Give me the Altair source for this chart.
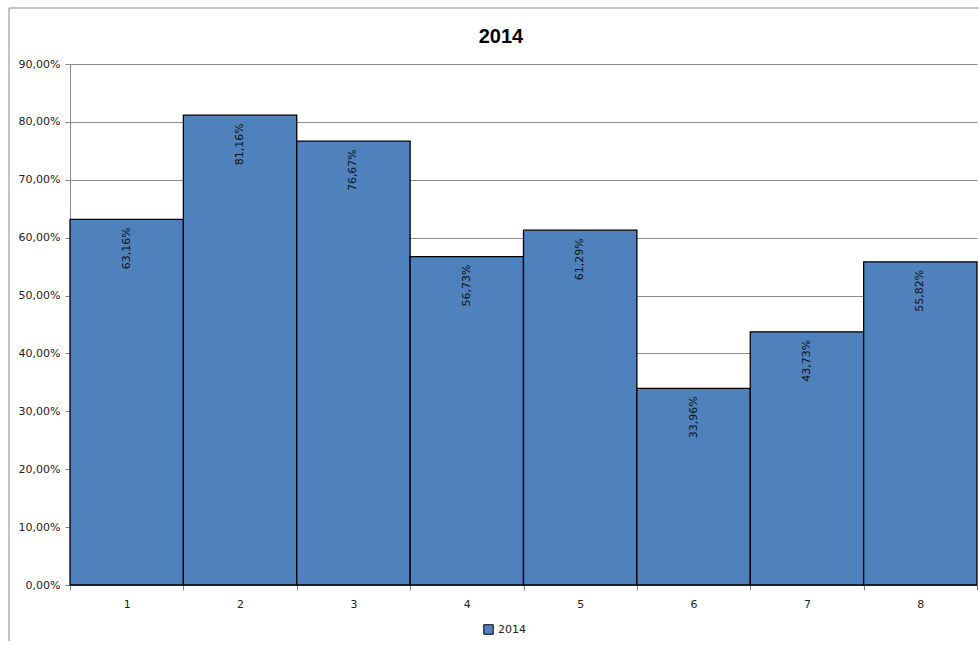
import altair as alt
import pandas as pd

categories = ["1", "2", "3", "4", "5", "6", "7", "8"]
values = [63.16, 81.16, 76.67, 56.73, 61.29, 33.96, 43.73, 55.82]
series = ["2014"] * 8
y_ticks = [0, 10, 20, 30, 40, 50, 60, 70, 80, 90]
title_text = ["2014"]

df = pd.DataFrame({"cat": categories, "value": values, "series": series})

FONT = "DejaVu Sans"
BAR = "#4F81BD"

base = alt.Chart(df)

x_enc = alt.X(
    "cat:N",
    sort=categories,
    scale=alt.Scale(paddingInner=0, paddingOuter=0),
    axis=alt.Axis(
        title=None, labelAngle=0, tickBand="extent", tickSize=5,
        tickColor="#888888", domainColor="#888888", labelPadding=8,
        labelFont=FONT, labelFontSize=11, labelColor="#222222", grid=False,
    ),
)
y_enc = alt.Y(
    "value:Q",
    scale=alt.Scale(domain=[0, 90], nice=False),
    axis=alt.Axis(
        title=None, values=y_ticks, tickSize=5, tickColor="#888888",
        domainColor="#888888", gridColor="#8c8c8c", gridWidth=1, grid=True,
        labelExpr="replace(format(datum.value, '.2f'), '.', ',') + '%'",
        labelFont=FONT, labelFontSize=11, labelColor="#222222", labelPadding=5,
    ),
)

bars = base.mark_bar(stroke="black", strokeWidth=1.3).encode(
    x=x_enc,
    y=y_enc,
    color=alt.Color(
        "series:N",
        scale=alt.Scale(domain=["2014"], range=[BAR]),
        legend=alt.Legend(
            title=None, orient="none", legendX=413, legendY=560,
            symbolType="square", symbolSize=90, symbolStrokeColor="black",
            symbolStrokeWidth=1, labelFont=FONT, labelFontSize=11,
            labelColor="#222222",
        ),
    ),
)

labels = base.transform_calculate(
    lbl="replace(format(datum.value, '.2f'), '.', ',') + '%'"
).mark_text(
    angle=270, align="right", baseline="middle", dx=-8, font=FONT,
    fontSize=11, color="#111111",
).encode(
    x=alt.X("cat:N", sort=categories),
    y=alt.Y("value:Q"),
    text="lbl:N",
)

title_df = pd.DataFrame({"t": title_text})
title = alt.Chart(title_df).mark_text(
    font="Liberation Sans", fontSize=20, fontWeight="bold",
    color="#000000", align="center", baseline="alphabetic",
).encode(x=alt.value(431), y=alt.value(-21), text="t:N")

border_data = alt.Data(values=[{"a": 1}])
border_left = alt.Chart(border_data).mark_rule(color="#8a8a8a", strokeWidth=1).encode(
    x=alt.value(-61), y=alt.value(-56), y2=alt.value(577)
)
border_top = alt.Chart(border_data).mark_rule(color="#8a8a8a", strokeWidth=1).encode(
    x=alt.value(-61), x2=alt.value(915), y=alt.value(-56)
)

chart = alt.layer(bars, labels, title, border_left, border_top).properties(
    width=907,
    height=521,
    autosize=alt.AutoSizeParams(type="none"),
    padding={"left": 70, "top": 64, "right": 2, "bottom": 60},
    background="white",
).configure_view(stroke=None)

chart.save("out.html", embed_options={"renderer": "svg", "actions": False})
